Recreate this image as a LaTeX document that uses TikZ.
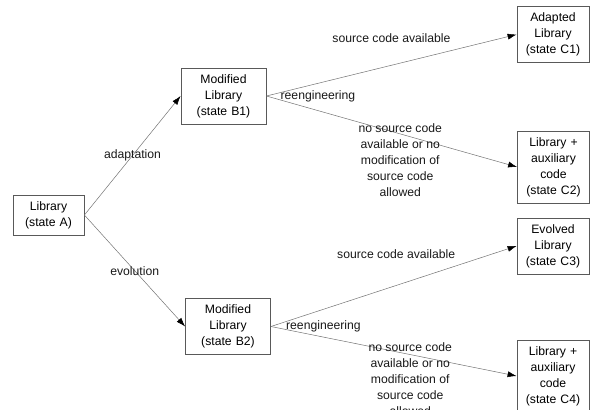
\documentclass[tikz,border=0pt]{standalone}
\usepackage{fontspec}
\setmainfont{Liberation Sans}
\usetikzlibrary{arrows.meta}
\tikzset{library/.style={rectangle, draw=black!65, line width=0.8pt, text width=66pt, align=center, minimum width=71pt, minimum height=40pt, inner sep=0pt}}
\tikzset{modified/.style={library, minimum width=85pt, minimum height=56pt}}
\tikzset{outcome/.style={library, minimum width=72pt, minimum height=56pt}}
\tikzset{tall/.style={minimum height=72pt}}
\tikzset{edgetext/.style={inner sep=0pt, text=black!90, align=center}}

\begin{document}
\begin{tikzpicture}[
	x=1pt, y=-1pt,
	>={Latex[length=9pt,width=6pt,color=black]},
	line width=0.5pt,
	font=\fontsize{12.2}{16}\selectfont,
	]
	\useasboundingbox (0,0) rectangle (603,410);
	\clip (0,0) rectangle (603,410);
	\node [library]        (A)  at (48.5,215)  {Library\\(state A)};
	\node [modified]       (B1) at (223.5,96)  {Modified\\Library\\(state B1)};
	\node [modified]       (B2) at (228,326.5) {Modified\\Library\\(state B2)};
	\node [outcome]        (C1) at (553,34.5)  {Adapted\\Library\\(state C1)};
	\node [outcome, tall]  (C2) at (553.5,167) {Library +\\auxiliary\\code\\(state C2)};
	\node [outcome]        (C3) at (553,246)   {Evolved\\Library\\(state C3)};
	\node [outcome, tall]  (C4) at (553,376)   {Library +\\auxiliary\\code\\(state C4)};
	\node [edgetext, anchor=west] (R1) at ([xshift=14pt]B1.east) {reengineering};
	\node [edgetext, anchor=west] (R2) at ([xshift=15pt]B2.east) {reengineering};
	
	\path[every edge/.style={draw=black!55, ->}, every node/.style={edgetext}]
	(A.east) edge node {adaptation} (B1.west)
	(A.east) edge node {evolution} (B2.west)
	(B1.east) edge node [yshift=27.5pt] {source code available} (C1.west)
	(B1.east) edge node [xshift=8.5pt, yshift=-28.5pt] {no source code\\available or no\\modification of\\source code\\allowed} (C2.west)
	(B2.east) edge node [xshift=2.5pt, yshift=32pt] {source code available} (C3.west)
	(B2.east) edge node [xshift=16.5pt, yshift=-28pt] {no source code\\available or no\\modification of\\source code\\allowed} (C4.west);
\end{tikzpicture}
\end{document}
